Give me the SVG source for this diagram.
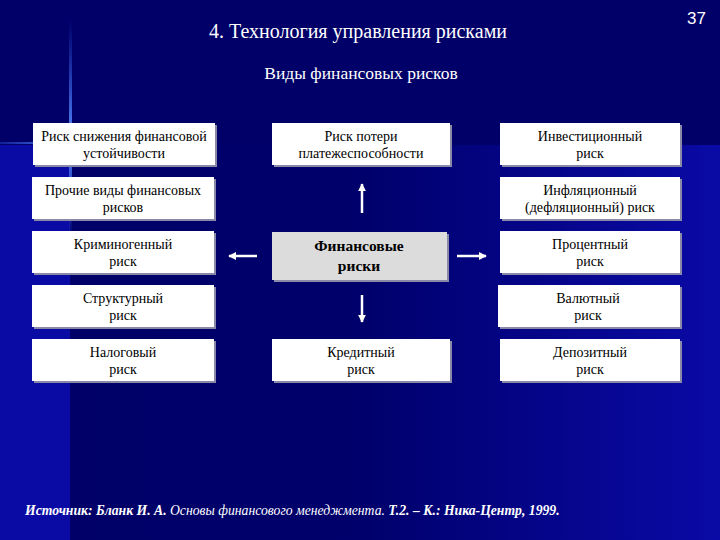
<svg xmlns="http://www.w3.org/2000/svg" width="720" height="540" viewBox="0 0 720 540">
<defs>
<linearGradient id="bgR" x1="0" y1="0" x2="1" y2="0">
<stop offset="0" stop-color="#000068"/>
<stop offset="0.45" stop-color="#00006c"/>
<stop offset="1" stop-color="#0a0aa6"/>
</linearGradient>
<linearGradient id="vflare" x1="0" y1="0" x2="0" y2="1">
<stop offset="0" stop-color="#3a6cff" stop-opacity="0"/>
<stop offset="0.55" stop-color="#5a8cff" stop-opacity="1"/>
<stop offset="1" stop-color="#3a6cff" stop-opacity="0"/>
</linearGradient>
<linearGradient id="hflare" x1="0" y1="0" x2="1" y2="0">
<stop offset="0" stop-color="#3a6cff" stop-opacity="0.3"/>
<stop offset="0.45" stop-color="#5a8cff" stop-opacity="1"/>
<stop offset="1" stop-color="#3a6cff" stop-opacity="0"/>
</linearGradient>
<marker id="ah" viewBox="0 0 10 10" refX="9" refY="5" markerWidth="3.2" markerHeight="3.2" orient="auto" markerUnits="strokeWidth">
<path d="M0,0 L10,5 L0,10 z" fill="#ffffff"/>
</marker>
</defs>
<style>
.box{fill:#ffffff;stroke:none}
.shadow{fill:#8a8aa8}
.center{fill:#dcdcdc}
.serif{font-family:"Times New Roman","Liberation Serif","DejaVu Serif",serif}
.t{font-family:"Times New Roman","Liberation Serif","DejaVu Serif",serif;font-size:14px;fill:#000000;text-anchor:middle}
.tb{font-family:"Times New Roman","Liberation Serif","DejaVu Serif",serif;font-size:15.5px;font-weight:bold;fill:#000000;text-anchor:middle}
.arr{stroke:#ffffff;stroke-width:2.5;fill:none;marker-end:url(#ah)}
</style>
<rect x="0" y="0" width="720" height="540" fill="#000068"/>
<rect x="70" y="145" width="650" height="395" fill="url(#bgR)"/>
<rect x="0" y="145" width="70" height="395" fill="#0a0aa4"/>
<rect x="69" y="20" width="3" height="220" fill="url(#vflare)"/>
<rect x="0" y="142" width="160" height="2" fill="url(#hflare)"/>

<text class="serif" x="358" y="38" font-size="20" fill="#ffffff" text-anchor="middle">4. Технология управления рисками</text>
<text class="serif" x="361" y="79" font-size="17.5" fill="#ffffff" text-anchor="middle">Виды финансовых рисков</text>
<text x="706" y="24" font-family="Liberation Sans, Arial, sans-serif" font-size="17" fill="#ffffff" text-anchor="end">37</text>

<g id="connectors">
<line class="arr" x1="362" y1="213" x2="362" y2="184"/>
<line class="arr" x1="362" y1="295" x2="362" y2="322"/>
<line class="arr" x1="257" y1="256" x2="229" y2="256"/>
<line class="arr" x1="457" y1="256" x2="486" y2="256"/>
</g>

<g id="n1"><rect class="shadow" x="35" y="125" width="182" height="42"/><rect class="box" x="33" y="123" width="182" height="42"/><text class="t" x="124" y="141">Риск снижения финансовой</text><text class="t" x="124" y="158">устойчивости</text></g>
<g id="n2"><rect class="shadow" x="34" y="179" width="182" height="42"/><rect class="box" x="32" y="177" width="182" height="42"/><text class="t" x="123" y="195">Прочие виды финансовых</text><text class="t" x="123" y="212">рисков</text></g>
<g id="n3"><rect class="shadow" x="34" y="233" width="182" height="42"/><rect class="box" x="32" y="231" width="182" height="42"/><text class="t" x="123" y="249">Криминогенный</text><text class="t" x="123" y="266">риск</text></g>
<g id="n4"><rect class="shadow" x="34" y="287" width="182" height="42"/><rect class="box" x="32" y="285" width="182" height="42"/><text class="t" x="123" y="303">Структурный</text><text class="t" x="123" y="320">риск</text></g>
<g id="n5"><rect class="shadow" x="34" y="341" width="182" height="42"/><rect class="box" x="32" y="339" width="182" height="42"/><text class="t" x="123" y="357">Налоговый</text><text class="t" x="123" y="374">риск</text></g>

<g id="n6"><rect class="shadow" x="274" y="125" width="178" height="42"/><rect class="box" x="272" y="123" width="178" height="42"/><text class="t" x="361" y="141">Риск потери</text><text class="t" x="361" y="158">платежеспособности</text></g>
<g id="center"><rect class="shadow" x="274" y="234" width="175" height="48"/><rect class="center" x="272" y="232" width="175" height="48"/><text class="tb" x="359" y="251">Финансовые</text><text class="tb" x="359" y="271">риски</text></g>
<g id="n7"><rect class="shadow" x="274" y="341" width="178" height="42"/><rect class="box" x="272" y="339" width="178" height="42"/><text class="t" x="361" y="357">Кредитный</text><text class="t" x="361" y="374">риск</text></g>

<g id="n8"><rect class="shadow" x="502" y="125" width="180" height="42"/><rect class="box" x="500" y="123" width="180" height="42"/><text class="t" x="590" y="141">Инвестиционный</text><text class="t" x="590" y="158">риск</text></g>
<g id="n9"><rect class="shadow" x="502" y="179" width="180" height="42"/><rect class="box" x="500" y="177" width="180" height="42"/><text class="t" x="590" y="195">Инфляционный</text><text class="t" x="590" y="212">(дефляционный) риск</text></g>
<g id="n10"><rect class="shadow" x="502" y="233" width="180" height="42"/><rect class="box" x="500" y="231" width="180" height="42"/><text class="t" x="590" y="249">Процентный</text><text class="t" x="590" y="266">риск</text></g>
<g id="n11"><rect class="shadow" x="500" y="287" width="182" height="42"/><rect class="box" x="498" y="285" width="182" height="42"/><text class="t" x="588" y="303">Валютный</text><text class="t" x="588" y="320">риск</text></g>
<g id="n12"><rect class="shadow" x="502" y="341" width="180" height="42"/><rect class="box" x="500" y="339" width="180" height="42"/><text class="t" x="590" y="357">Депозитный</text><text class="t" x="590" y="374">риск</text></g>

<text class="serif" x="25" y="515" font-size="13.7" font-style="italic" fill="#ffffff"><tspan font-weight="bold">Источник: Бланк И. А.</tspan> Основы финансового менеджмента. <tspan font-weight="bold">Т.2. – К.: Ника-Центр, 1999.</tspan></text>
</svg>
